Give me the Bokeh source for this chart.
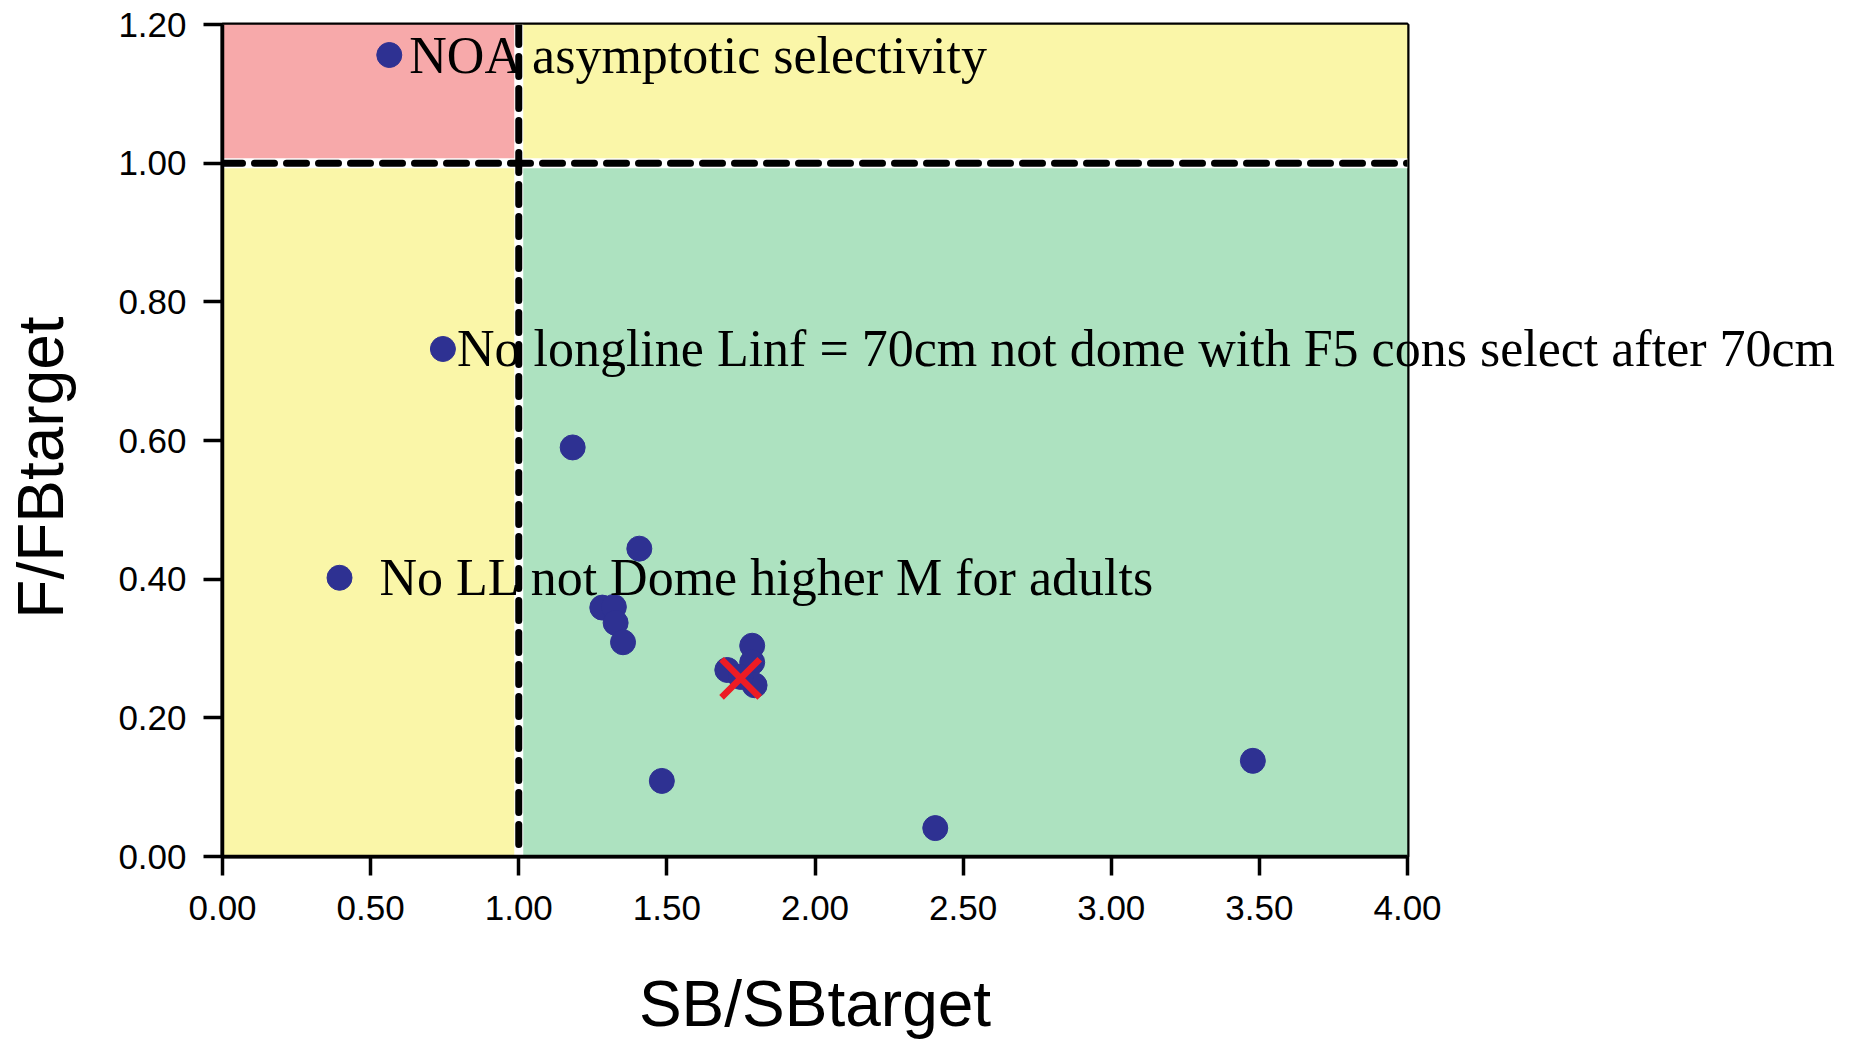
import numpy as np
from bokeh.plotting import figure
from bokeh.models import (ColumnDataSource, BoxAnnotation, Span,
                          FixedTicker, NumeralTickFormatter, Range1d)
from bokeh.core.properties import value
from bokeh.embed import file_html
from bokeh.resources import INLINE

# ---- data ----
sb_ratio = [0.563, 0.744, 0.395, 1.182, 1.407, 1.282, 1.321, 1.327, 1.352,
            1.483, 2.406, 3.478, 1.788, 1.788, 1.704, 1.796, 1.749]
f_ratio = [1.156, 0.732, 0.402, 0.590, 0.444, 0.359, 0.360, 0.337, 0.309,
           0.109, 0.041, 0.138, 0.304, 0.280, 0.269, 0.247, 0.259]
point_labels = ["NOA asymptotic selectivity",
                "No longline Linf = 70cm not dome with F5 cons select after 70cm",
                "No LL not Dome higher M for adults"]
labelled_points = [0, 1, 2]
ref_sb = [1.749]
ref_f = [0.257]
sb_target = 1.0
f_target = 1.0
x_ticks = [0.0, 0.5, 1.0, 1.5, 2.0, 2.5, 3.0, 3.5, 4.0]
y_ticks = [0.0, 0.2, 0.4, 0.6, 0.8, 1.0, 1.2]
x_title = "SB/SBtarget"
y_title = "F/FBtarget"

# ---- layout / styles ----
label_offsets_px = [20, 14, 40]
PINK = "#F7A9AA"
YELLOW = "#FAF6A8"
GREEN = "#ADE2C0"
BLUE = "#2E3192"
RED = "#ED1C24"
W, H = 1857, 1039
BL, BT, BR, BB = 222, 24, 450, 183
FW, FH = W - BL - BR, H - BT - BB

x0, x1 = x_ticks[0], x_ticks[-1]
y0, y1 = y_ticks[0], y_ticks[-1]
px_x = (x1 - x0) / FW
px_y = (y1 - y0) / FH

p = figure(width=W, height=H, x_range=Range1d(x0, x1), y_range=Range1d(y0, y1),
           output_backend="svg", toolbar_location=None,
           min_border_left=BL, min_border_right=BR, min_border_top=BT, min_border_bottom=BB)
p.grid.visible = False
p.background_fill_color = "white"
p.border_fill_color = "white"
p.outline_line_color = "black"
p.outline_line_width = 4

# quadrants
for l, r, b, t, c in [(x0, sb_target, f_target, y1, PINK),
                      (sb_target, x1, f_target, y1, YELLOW),
                      (x0, sb_target, y0, f_target, YELLOW),
                      (sb_target, x1, y0, f_target, GREEN)]:
    p.add_layout(BoxAnnotation(left=l, right=r, bottom=b, top=t, fill_color=c,
                               fill_alpha=1, line_alpha=0, level="underlay"))
p.add_layout(Span(location=f_target, dimension="width", line_color="white",
                  line_width=10, level="underlay"))
p.add_layout(Span(location=sb_target, dimension="height", line_color="white",
                  line_width=9, level="underlay"))

src = ColumnDataSource(dict(x=sb_ratio, y=f_ratio))
p.scatter("x", "y", source=src, size=25, fill_color=BLUE, line_color=BLUE, line_width=1)
p.scatter(ref_sb, ref_f, marker="x", size=54, line_color=RED, line_width=6.5)

lab_src = ColumnDataSource(dict(
    x=[sb_ratio[i] for i in labelled_points],
    y=[f_ratio[i] for i in labelled_points],
    text=point_labels,
    xo=label_offsets_px))
p.text("x", "y", text="text", source=lab_src, x_offset="xo", level="annotation",
       text_font=value("Liberation Serif"), text_font_size="52px", text_color="black",
       text_baseline="middle", text_align="left")

p.add_layout(Span(location=f_target, dimension="width", line_color="black",
                  line_width=7, line_dash="20 12", line_cap="round"))
p.add_layout(Span(location=sb_target, dimension="height", line_color="black",
                  line_width=7, line_dash="20 12", line_cap="round"))

for ax, ticks in [(p.xaxis, x_ticks), (p.yaxis, y_ticks)]:
    ax.ticker = FixedTicker(ticks=ticks)
    ax.formatter = NumeralTickFormatter(format="0.00")
    ax.major_label_text_font = "Liberation Sans"
    ax.major_label_text_font_size = "35px"
    ax.major_label_text_color = "black"
    ax.major_tick_in = 0
    ax.major_tick_out = 19
    ax.major_tick_line_width = 3.5
    ax.major_tick_line_color = "black"
    ax.minor_tick_line_color = None
    ax.axis_line_width = 3.5
    ax.axis_line_color = "black"
p.xaxis.major_label_standoff = 20
p.yaxis.major_label_standoff = 17

# axis titles (unclipped text glyphs, placed in pixels from the frame)
p.text([(x0 + x1) / 2], [y0 - 147 * px_y], text=[x_title], level="annotation",
       text_font=value("Liberation Sans"), text_font_size="64px", text_color="black",
       text_align="center", text_baseline="alphabetic")
p.text([x0 - 182 * px_x], [y0 + 389 * px_y], text=[y_title], angle=np.pi / 2,
       level="annotation",
       text_font=value("Liberation Sans"), text_font_size="64px", text_color="black",
       text_align="center", text_baseline="alphabetic")

open("out.html", "w").write(file_html(p, INLINE))
